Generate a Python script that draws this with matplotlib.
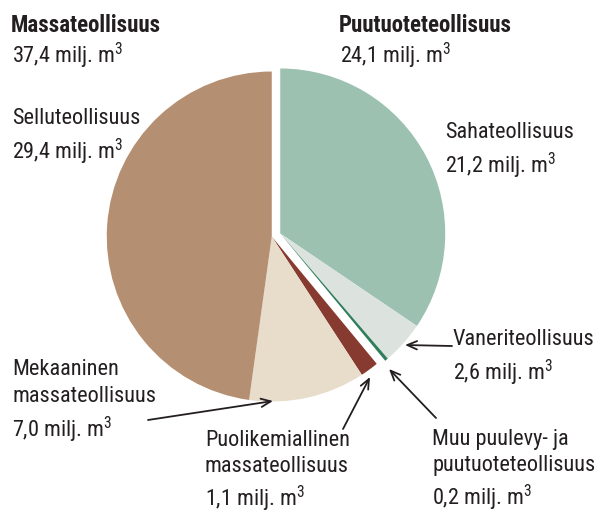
import matplotlib.pyplot as plt
import numpy as np

plt.rcParams['font.family'] = ['Roboto Condensed', 'DejaVu Sans']
plt.rcParams['font.stretch'] = 'condensed'
plt.rcParams['mathtext.fontset'] = 'custom'
plt.rcParams['mathtext.rm'] = 'Roboto Condensed'

# data (milj. m3)
puu_labels = ['Sahateollisuus', 'Vaneriteollisuus', 'Muu puulevy- ja\npuutuoteteollisuus']
puu_values = [21.2, 2.6, 0.2]
puu_colors = ['#9cc1b0', '#dce3de', '#2e7d5b']
massa_labels = ['Puolikemiallinen\nmassateollisuus', 'Mekaaninen\nmassateollisuus', 'Selluteollisuus']
massa_values = [1.1, 7.0, 29.4]
massa_colors = ['#873a2f', '#e8dccb', '#b58f71']
group_names = ['Puutuoteteollisuus', 'Massateollisuus']
group_totals = [24.1, 37.4]

W, H = 595, 513
fig = plt.figure(figsize=(W / 100, H / 100), dpi=100)
ax = fig.add_axes([0, 0, 1, 1])

cx, cy, R, d = 276, H - 235, 165, 4.5
total = sum(puu_values) + sum(massa_values)
frac_puu = sum(puu_values) / total

# each group is pushed out along its own bisector
ang1 = np.radians(90 - frac_puu * 180)
ang2 = np.radians(90 - frac_puu * 360 - (1 - frac_puu) * 180)
c1 = (cx + d * np.cos(ang1), cy + d * np.sin(ang1))
c2 = (cx + d * np.cos(ang2), cy + d * np.sin(ang2))

ax.pie(puu_values + [sum(massa_values)], colors=puu_colors + ['none'],
       startangle=90, counterclock=False, radius=R, center=c1,
       wedgeprops=dict(linewidth=0))
ax.pie([sum(puu_values)] + massa_values, colors=['none'] + massa_colors,
       startangle=90, counterclock=False, radius=R, center=c2,
       wedgeprops=dict(linewidth=0))

ax.set_xlim(0, W)
ax.set_ylim(0, H)
ax.set_aspect('equal')
ax.axis('off')

tc = '#231f20'
fs = 16
m3 = ' milj. m$^\\mathregular{3}$'


def fmt(v):
    return f'{v:.1f}'.replace('.', ',') + m3


def label(x, y, txt, ls=1.36):
    ax.text(x, H - y, txt, fontsize=fs, color=tc, va='top', ha='left', linespacing=ls)


# group headers
ax.text(11, H - 14, group_names[1], fontsize=16.5, fontweight='bold', color=tc, va='top')
ax.text(12, H - 41, fmt(group_totals[1]), fontsize=fs, color=tc, va='top')
ax.text(339, H - 14, group_names[0], fontsize=16.5, fontweight='bold', color=tc, va='top')
ax.text(340, H - 41, fmt(group_totals[0]), fontsize=fs, color=tc, va='top')

label(12, 108, massa_labels[2] + '\n' + fmt(massa_values[2]))
label(445, 122, puu_labels[0] + '\n' + fmt(puu_values[0]))
label(453, 329, puu_labels[1] + '\n' + fmt(puu_values[1]))
label(432, 429, puu_labels[2] + '\n' + fmt(puu_values[2]), ls=1.3)
label(12, 359, massa_labels[1] + '\n' + fmt(massa_values[1]))
label(205, 430, massa_labels[0] + '\n' + fmt(massa_values[0]), ls=1.3)

arrows = [((452, 346), (405, 345)),
          ((436, 418), (389, 369)),
          ((343, 429), (370, 377)),
          ((148, 420), (273, 401))]
for (x0, y0), (x1, y1) in arrows:
    ax.annotate('', xy=(x1, H - y1), xytext=(x0, H - y0),
                arrowprops=dict(arrowstyle='->,head_length=0.7,head_width=0.3',
                                color=tc, lw=1.3, shrinkA=0, shrinkB=0))

fig.savefig('out.png', dpi=100)
